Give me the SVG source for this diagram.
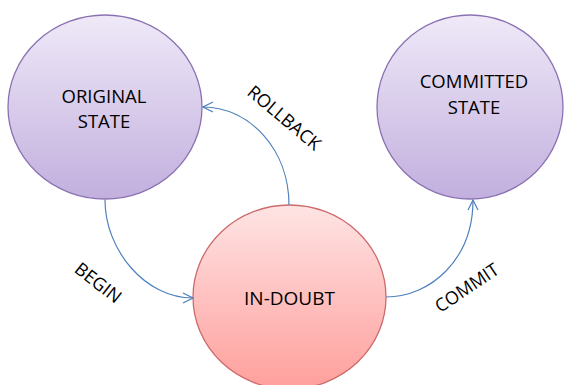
<svg xmlns="http://www.w3.org/2000/svg" width="566" height="385" viewBox="0 0 566 385">
<defs>
<linearGradient id="gp" x1="0" y1="0" x2="0" y2="1">
<stop offset="0" stop-color="#efe9f8"/>
<stop offset="1" stop-color="#c2afde"/>
</linearGradient>
<linearGradient id="gr" x1="0" y1="0" x2="0" y2="1">
<stop offset="0" stop-color="#fee4e4"/>
<stop offset="1" stop-color="#ff9f9c"/>
</linearGradient>
<marker id="arr" viewBox="0 0 12 12" refX="11" refY="6" markerWidth="12" markerHeight="12" markerUnits="userSpaceOnUse" orient="auto">
<path d="M1,1 L11,6 L1,11" fill="none" stroke="#4f81bd" stroke-width="1.2"/>
</marker>
</defs>
<style>
.pn{fill:url(#gp);stroke:#8a72b2;stroke-width:1.3}
.rn{fill:url(#gr);stroke:#cd6a6a;stroke-width:1.3}
.t{font-family:"Open Sans","Liberation Sans",sans-serif;font-size:18.5px;fill:#000;text-anchor:middle}
.l{font-size:18px}
.c{fill:none;stroke:#4f81bd;stroke-width:1.2;marker-end:url(#arr)}
</style>
<rect width="566" height="385" fill="#fff"/>
<g id="original">
<ellipse class="pn" cx="105" cy="107" rx="97" ry="92"/>
<text class="t" x="104" y="103">ORIGINAL</text>
<text class="t" x="104" y="128">STATE</text>
</g>
<g id="committed">
<ellipse class="pn" cx="470" cy="107" rx="93" ry="92"/>
<text class="t" x="474" y="88">COMMITTED</text>
<text class="t" x="474" y="114">STATE</text>
</g>
<g id="indoubt">
<ellipse class="rn" cx="289.5" cy="297" rx="96.5" ry="92"/>
<text class="t" x="289.5" y="305" style="font-size:19px">IN-DOUBT</text>
</g>
<g id="connectors">
<path class="c" d="M105,200 C105,250 145,298 193,298"/>
<path class="c" d="M386,297 C430,297 473,260 473,200"/>
<path class="c" d="M289,205 C289,150 250,107 203,107"/>
</g>
<g id="labels">
<text class="t l" transform="translate(98,283) rotate(38)" y="6">BEGIN</text>
<text class="t l" transform="translate(284,118) rotate(40)" y="6">ROLLBACK</text>
<text class="t l" transform="translate(467,288) rotate(-34)" y="6">COMMIT</text>
</g>
</svg>
